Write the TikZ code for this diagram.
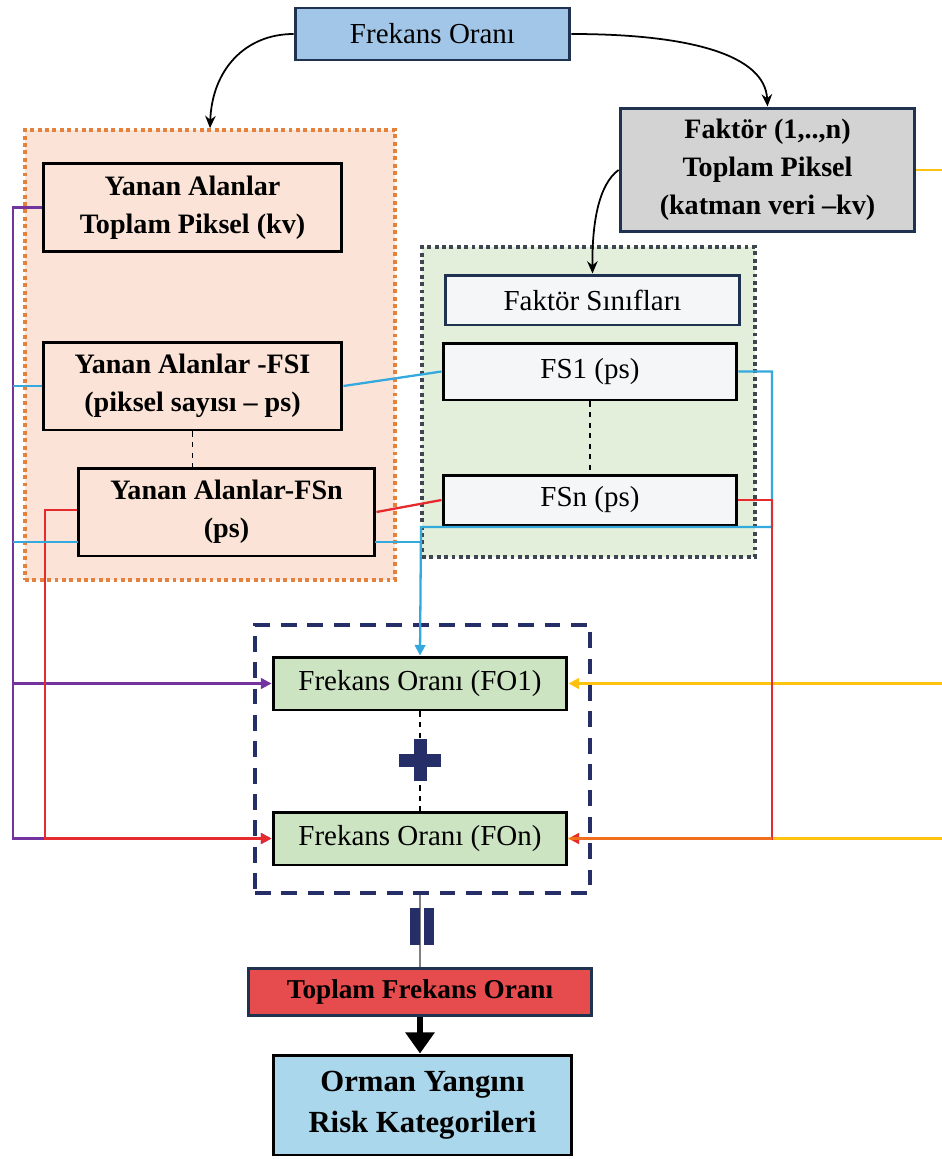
\documentclass[tikz,border=0pt]{standalone}
\usepackage{fontspec}
\setmainfont{Liberation Serif}
\usetikzlibrary{arrows.meta,calc}
\definecolor{topblue}{HTML}{A2C6E8}
\definecolor{navyb}{HTML}{1F3350}
\definecolor{peach}{HTML}{FBE4D7}
\definecolor{orangeb}{HTML}{E3813D}
\definecolor{greyfill}{HTML}{D3D3D3}
\definecolor{greenbg}{HTML}{E3EFDA}
\definecolor{dotgrey}{HTML}{3E4652}
\definecolor{fsfill}{HTML}{F4F6F8}
\definecolor{fogreen}{HTML}{CCE4C2}
\definecolor{navydash}{HTML}{252E66}
\definecolor{redfill}{HTML}{E64B4E}
\definecolor{ormanblue}{HTML}{ABD7EC}
\definecolor{cyanl}{HTML}{33A9DE}
\definecolor{purpl}{HTML}{7434A0}
\definecolor{redl}{HTML}{E52B2D}
\definecolor{yell}{HTML}{FFC20E}
\tikzset{
  box/.style={draw, line width=1.7pt, align=center, inner sep=0pt},
  regtext/.style={font=\fontsize{16.5}{21}\selectfont},
  boldtext/.style={font=\fontsize{16}{21.5}\selectfont\bfseries},
  conn/.style={line width=1.3pt},
  arr/.style={-{Triangle[length=6pt,width=6pt]}},
  curvearr/.style={line width=1pt, -{Stealth[length=7pt,width=6pt]}},
}
\begin{document}
\begin{tikzpicture}[x=0.02cm,y=-0.02cm]
\useasboundingbox (0,0) rectangle (942,1159);
\fill[white] (0,0) rectangle (942,1159);

% containers
\node[draw=orangeb, fill=peach, line width=2.2pt, dotted, minimum width=7.4cm, minimum height=9.0cm, inner sep=0pt] (orng) at (210,355) {};
\node[draw=dotgrey, fill=greenbg, line width=2.2pt, dotted, minimum width=6.66cm, minimum height=6.2cm, inner sep=0pt] (grn) at (588.5,402) {};
\node[draw=navydash, line width=2.2pt, dash pattern=on 9pt off 6pt, minimum width=6.7cm, minimum height=5.36cm, inner sep=0pt] (nvy) at (422.5,759) {};

% boxes
\node[box, draw=navyb, fill=topblue, regtext, minimum width=5.5cm, minimum height=1.04cm] (top) at (432.5,34) {Frekans Oranı};
\node[box, fill=peach, boldtext, minimum width=5.98cm, minimum height=1.78cm] (y1) at (192.5,207.5) {Yanan Alanlar\\Toplam Piksel (kv)};
\node[box, fill=peach, boldtext, minimum width=5.98cm, minimum height=1.76cm] (y2) at (192.5,386) {Yanan Alanlar -FSI\\(piksel sayısı – ps)};
\node[box, fill=peach, boldtext, minimum width=5.94cm, minimum height=1.76cm] (y3) at (226.5,512) {Yanan Alanlar-FSn\\(ps)};
\node[box, draw=navyb, fill=greyfill, boldtext, minimum width=5.9cm, minimum height=2.48cm] (fak) at (767.5,170) {Faktör (1,..,n)\\Toplam Piksel\\(katman veri –kv)};
\node[box, draw=navyb, fill=fsfill, regtext, minimum width=5.9cm, minimum height=1.0cm] (fsc) at (592.5,300) {Faktör Sınıfları};
\node[box, fill=fsfill, regtext, minimum width=5.88cm, minimum height=1.14cm] (fs1) at (590,371.5) {FS1 (ps)};
\node[box, fill=fsfill, regtext, minimum width=5.88cm, minimum height=1.0cm] (fsn) at (590,500) {FSn (ps)};
\node[box, fill=fogreen, regtext, minimum width=5.88cm, minimum height=1.06cm] (fo1) at (420,683.5) {Frekans Oranı (FO1)};
\node[box, fill=fogreen, regtext, minimum width=5.88cm, minimum height=1.06cm] (fon) at (420,838.5) {Frekans Oranı (FOn)};
\node[box, draw=navyb, fill=redfill, font=\fontsize{15.5}{19}\selectfont\bfseries, minimum width=6.88cm, minimum height=0.94cm] (tfo) at (420,991.5) {Toplam Frekans Oranı};
\node[box, fill=ormanblue, font=\fontsize{17.5}{23}\selectfont\bfseries, minimum width=5.98cm, minimum height=2.0cm] (orm) at (422.5,1105) {Orman Yangını\\Risk Kategorileri};

% curved arrows
\draw[curvearr] (top.west) .. controls (245,34) and (212,70) .. (orng.north);
\draw[curvearr] (top.east) .. controls (690,34) and (765,55) .. (fak.north);
\draw[curvearr] (fak.west) .. controls (598,185) and (592,225) .. (fsc.north);

% dashed separators
\draw[line width=1pt, dashed] (y2.south) -- (y2.south |- y3.north);
\draw[line width=1pt, dashed] (fs1.south) -- (fsn.north);
\draw[line width=1pt, dashed] (fo1.south) -- (fon.north);

% plus sign
\fill[navydash] (413.5,739) rectangle (426.5,781);
\fill[navydash] (399,753.5) rectangle (441,766.5);

% equals (rotated) and grey link
\coordinate (eqtop) at (nvy.south -| tfo.north);
\draw[gray, line width=0.6pt] (eqtop) -- (tfo.north);
\fill[navydash] (410,908) rectangle (420,945);
\fill[navydash] (424,908) rectangle (434,945);

% thick arrow
\draw[line width=3.2pt, -{Triangle[length=12pt,width=16pt]}] (tfo.south) -- (tfo.south |- orm.north);

% coordinates for connectors
\coordinate (px) at (13,0);
\coordinate (rx) at (45,0);
\coordinate (cx) at (421,0);
\coordinate (ex) at (772,0);
\coordinate (yx) at (942,0);

% purple
\draw[conn, purpl, arr] (y1.west) -| (px |- fon.west) -- (fon.west);
\draw[conn, purpl, arr] (px |- fo1.west) -- (fo1.west);

% red
\draw[conn, redl, arr] ($(y3.west)+(0,-2)$) -| (rx |- fon.west) -- (fon.west);
\draw[conn, redl] (y3.east) -- (fsn.west);

% cyan
\draw[conn, cyanl] (px |- y2.west) -- (y2.west);
\draw[conn, cyanl] (y2.east) -- (fs1.west);
\draw[conn, cyanl] (13,542) -- (78,542);
\draw[conn, cyanl] (375,542) -- (cx |- 0,542);
\draw[conn, cyanl, arr] (fs1.east) -| (ex |- 0,527) -- (cx |- 0,527) -- (fo1.north);

% yellow
\draw[conn, yell] (fak.east) -- (yx |- fak.east);
\draw[conn, yell, arr] (yx |- fo1.east) -- (fo1.east);
\draw[conn, yell, arr] (yx |- fon.east) -- (fon.east);

% red right
\draw[conn, redl, arr] (fsn.east) -| (ex |- fon.east) -- (fon.east);
\draw[conn, yell, opacity=0.45] (ex |- fon.east) -- (fon.east);
\end{tikzpicture}
\end{document}
